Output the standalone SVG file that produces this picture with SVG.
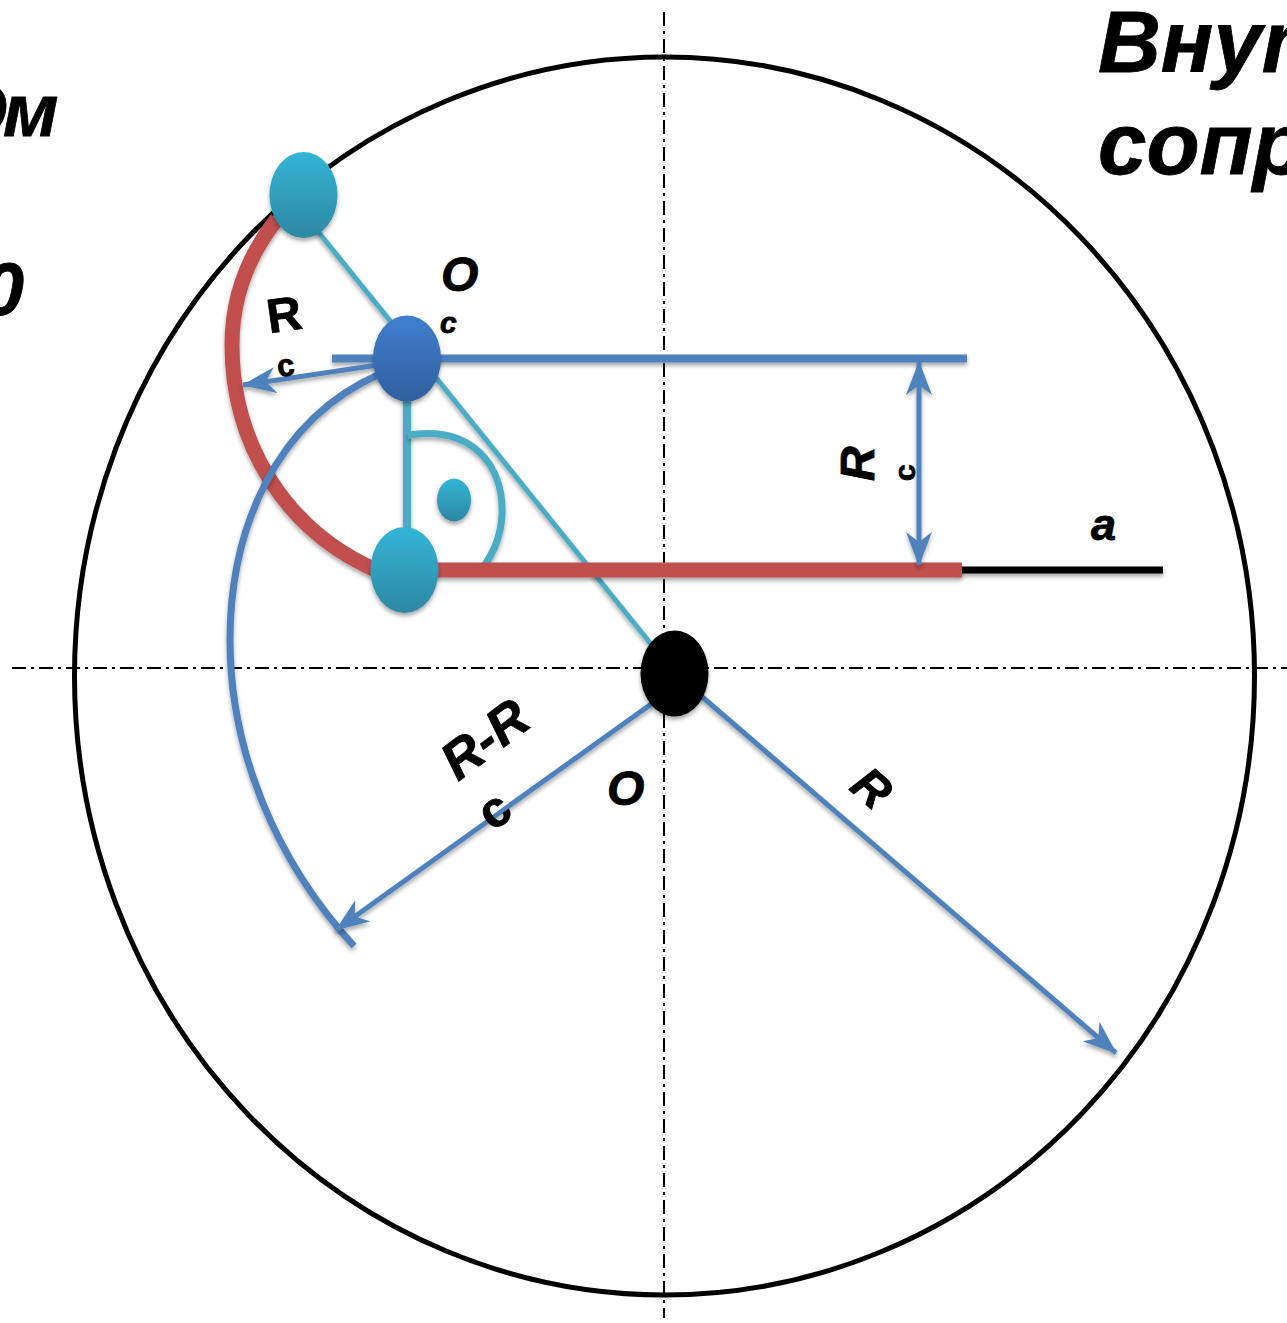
<svg xmlns="http://www.w3.org/2000/svg" width="1287" height="1323" viewBox="0 0 1287 1323">
<style>
text{font-family:"Liberation Sans",Arial,sans-serif;font-weight:bold;fill:#000;stroke:#000;stroke-width:.8}
.i{font-style:italic}
.axis{fill:none;stroke:#000;stroke-width:2;stroke-dasharray:14 5 3 5}
.blue{fill:none;stroke:#4f81bd}
.teal{fill:none;stroke:#4bacc6}
.red{fill:none;stroke:#c0504d}
.sh{filter:url(#sh)}
</style>
<defs>
<filter id="sh" x="-20%" y="-20%" width="140%" height="140%" filterUnits="objectBoundingBox"><feDropShadow dx="0" dy="3" stdDeviation="2" flood-color="#000" flood-opacity=".35"/></filter>
<filter id="shl" filterUnits="userSpaceOnUse" x="0" y="0" width="1287" height="1323"><feDropShadow dx="0" dy="3" stdDeviation="2" flood-color="#000" flood-opacity=".35"/></filter>
<linearGradient id="gt" x1="0" y1="0" x2="0" y2="1"><stop offset="0" stop-color="#33b5d6"/><stop offset="1" stop-color="#2d87a3"/></linearGradient>
<linearGradient id="gb" x1="0" y1="0" x2="0" y2="1"><stop offset="0" stop-color="#3f7fce"/><stop offset="1" stop-color="#315f9e"/></linearGradient>
<marker id="ah" viewBox="0 0 34 26" refX="33" refY="13" markerWidth="34" markerHeight="26" markerUnits="userSpaceOnUse" orient="auto-start-reverse"><path d="M34 13 L0 0 L10 13 L0 26Z" fill="#4f81bd"/></marker>
</defs>
<g id="axes"><path class="axis" d="M12 668H1287"/><path class="axis" d="M664 12V1318"/></g>
<g id="outer-circle"><ellipse cx="664.500" cy="676" rx="590" ry="619" fill="none" stroke="#000" stroke-width="5"/></g>
<g id="connectors">
<path class="teal" stroke-width="5" filter="url(#shl)" d="M303 213L672 670"/>
<path class="teal" stroke-width="8" filter="url(#shl)" d="M407 358V570"/>
<path class="teal" stroke-width="7" filter="url(#shl)" d="M408 435C472 425 504 465 502 515C501 535 494 552 484 566"/>
<path stroke="#000" stroke-width="7" filter="url(#shl)" d="M958 570H1163"/>
<path class="red" stroke-width="15" filter="url(#shl)" d="M404 570H962"/>
<path class="red" stroke-width="15" filter="url(#shl)" d="M277 219C246 258 232 300 232 345C232 440 282 530 380 572"/>
<path class="blue" stroke-width="8" filter="url(#shl)" d="M332 358.500H967"/>
<path class="blue" stroke-width="7" filter="url(#shl)" d="M380 374C275 420 230 530 230 640C230 750 275 860 354 946"/>
<path class="blue" stroke-width="5" filter="url(#shl)" marker-end="url(#ah)" d="M378 365L243 385"/>
<path class="blue" stroke-width="5" filter="url(#shl)" marker-end="url(#ah)" d="M654 702L336 930"/>
<path class="blue" stroke-width="5" filter="url(#shl)" marker-end="url(#ah)" d="M700 695L1116 1053"/>
<path class="blue" stroke-width="5" filter="url(#shl)" marker-start="url(#ah)" marker-end="url(#ah)" d="M919 362V565"/>
</g>
<g id="node-top"><ellipse class="sh" cx="303.500" cy="195" rx="34" ry="43" fill="url(#gt)"/></g>
<g id="node-center"><ellipse class="sh" cx="407" cy="358.500" rx="34" ry="43" fill="url(#gb)"/></g>
<g id="node-bottom"><ellipse class="sh" cx="404.500" cy="570" rx="34" ry="43" fill="url(#gt)"/></g>
<g id="node-dot"><ellipse class="sh" cx="454" cy="500" rx="17" ry="21.500" fill="url(#gt)"/></g>
<g id="node-origin"><ellipse class="sh" cx="674.500" cy="673.500" rx="34" ry="43" fill="#000"/></g>
<g id="labels">
<text x="1098" y="72" font-size="87" class="i">Внут</text>
<text x="1098" y="174" font-size="87" class="i">сопр</text>
<text y="136" font-size="75" class="i"><tspan x="-51">О</tspan><tspan x="3">м</tspan></text>
<text x="24" y="315" font-size="75" class="i" text-anchor="end">0</text>
<text x="441" y="291" font-size="48" class="i">O</text>
<text x="440" y="333" font-size="30" class="i">c</text>
<text x="267" y="331" font-size="48" transform="rotate(-8 284 316)">R</text>
<text x="277" y="376" font-size="31" transform="rotate(-8 285 366)">c</text>
<text font-size="48" class="i" transform="translate(874 481) rotate(-90)">R</text>
<text font-size="30" transform="translate(915 481) rotate(-90)">c</text>
<text x="1091" y="540" font-size="45" class="i">a</text>
<text font-size="53" class="i" transform="translate(458 782) rotate(-37)">R-R</text>
<text font-size="50" transform="translate(493 832) rotate(-37)">c</text>
<text x="607" y="805" font-size="48" class="i">O</text>
<text font-size="48" class="i" transform="translate(848 789) rotate(41)">R</text>
</g>
</svg>
